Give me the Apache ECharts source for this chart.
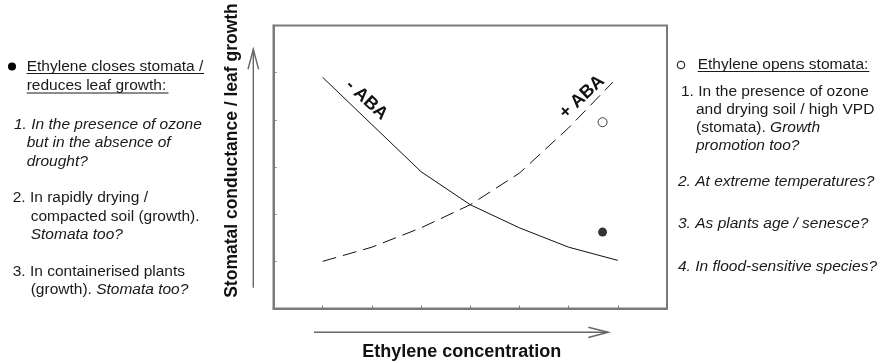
<!DOCTYPE html>
<html>
<head>
<meta charset="utf-8">
<script src="https://cdn.jsdelivr.net/npm/echarts@6/dist/echarts.min.js"></script>
<style>
html,body{margin:0;padding:0;background:#fff;}
#chart{width:888px;height:363px;}
</style>
</head>
<body>
<div id="chart"></div>
<script>
// ---- data ----
var xTicks = [0, 1, 2, 3, 4, 5, 6, 7, 8];
var yTicks = [0, 1, 2, 3, 4, 5, 6];
var minusABA_x = [1, 2, 3, 4, 5, 6, 7];
var minusABA_y = [4.9, 3.9, 2.9, 2.2, 1.71, 1.30, 1.02];
var plusABA_x = [1, 2, 3, 4, 5, 6, 6.9];
var plusABA_y = [1.0, 1.30, 1.71, 2.2, 2.87, 3.83, 4.8];
var openPoint = [6.69, 3.95];
var filledPoint = [6.69, 1.62];

var xAxisTitle = 'Ethylene concentration';
var yAxisTitle = 'Stomatal conductance / leaf growth';
var minusLabel = '- ABA';
var plusLabel = '+ ABA';

var leftHeading = ['Ethylene closes stomata /', 'reduces leaf growth:'];
var leftNotes = [
  ['1. In the presence of ozone', 'i'],
  ['but in the absence of', 'i'],
  ['drought?', 'i'],
  ['2. In rapidly drying /', 'n'],
  ['compacted soil (growth).', 'n'],
  ['Stomata too?', 'i'],
  ['3. In containerised plants', 'n'],
  ['(growth). {i|Stomata too?}', 'n']
];
var rightHeading = ['Ethylene opens stomata:'];
var rightNotes = [
  ['1. In the presence of ozone', 'n'],
  ['and drying soil / high VPD', 'n'],
  ['(stomata). {i|Growth}', 'n'],
  ['promotion too?', 'i'],
  ['2. At extreme temperatures?', 'i'],
  ['3. As plants age / senesce?', 'i'],
  ['4. In flood-sensitive species?', 'i']
];

// ---- layout ----
var FONT = '"Liberation Sans", Arial, Helvetica, sans-serif';
var FS = 15.5;
var TXT = '#1a1a1a';
var GRAY = '#7a7a7a';

function zip(a, b) { return a.map(function (v, i) { return [v, b[i]]; }); }

function textEl(str, x, y, style, extra) {
  var s = {
    text: str, x: 0, y: 0,
    fill: TXT,
    fontFamily: FONT, fontSize: FS,
    fontStyle: style === 'i' ? 'italic' : 'normal',
    fontWeight: 'normal',
    align: 'left', verticalAlign: 'middle',
    rich: { i: { fontStyle: 'italic', fontFamily: FONT, fontSize: FS, fill: TXT } }
  };
  var el = { type: 'text', x: x, y: y, style: s, silent: true };
  if (extra) for (var k in extra) el[k] = extra[k];
  return el;
}

var leftX = [14, 26.7, 26.7, 12.7, 30.7, 30.7, 12.7, 30.7];
var leftY = [124.3, 142.7, 161.7, 197.3, 216.7, 235, 271.7, 290];
var rightX = [681, 696, 696, 696, 678, 678, 678];
var rightY = [91.7, 109.3, 127.3, 145.7, 181.7, 224, 266.7];

var graphics = [];
// headings
graphics.push(textEl(leftHeading[0], 26.7, 66.7, 'n'));
graphics.push(textEl(leftHeading[1], 26.7, 86, 'n'));
graphics.push({ type: 'line', shape: { x1: 26.7, y1: 73.5, x2: 204, y2: 73.5 }, style: { stroke: TXT, lineWidth: 1 }, silent: true });
graphics.push({ type: 'line', shape: { x1: 26.7, y1: 93, x2: 168.5, y2: 93 }, style: { stroke: TXT, lineWidth: 1 }, silent: true });
graphics.push({ type: 'circle', shape: { cx: 12, cy: 66.5, r: 4 }, style: { fill: '#000' }, silent: true });

graphics.push(textEl(rightHeading[0], 697.7, 65, 'n'));
graphics.push({ type: 'line', shape: { x1: 697.7, y1: 71.5, x2: 869.3, y2: 71.5 }, style: { stroke: TXT, lineWidth: 1 }, silent: true });
graphics.push({ type: 'circle', shape: { cx: 681, cy: 65, r: 3.8 }, style: { fill: '#fff', stroke: '#000', lineWidth: 1 }, silent: true });

leftNotes.forEach(function (n, i) { graphics.push(textEl(n[0], leftX[i], leftY[i], n[1])); });
rightNotes.forEach(function (n, i) { graphics.push(textEl(n[0], rightX[i], rightY[i], n[1])); });

// axis titles
graphics.push({ type: 'text', x: 232, y: 150.5, rotation: Math.PI / 2, silent: true,
  style: { text: yAxisTitle, x: 0, y: 0, fill: '#111', fontFamily: FONT, fontSize: 17.5, fontWeight: 'bold', align: 'center', verticalAlign: 'middle' } });
graphics.push({ type: 'text', x: 461.7, y: 352.5, silent: true,
  style: { text: xAxisTitle, x: 0, y: 0, fill: '#111', fontFamily: FONT, fontSize: 18, fontWeight: 'bold', align: 'center', verticalAlign: 'middle' } });

// ABA labels
graphics.push({ type: 'text', x: 366.5, y: 100, rotation: -0.75, silent: true,
  style: { text: minusLabel, x: 0, y: 0, fill: '#111', fontFamily: FONT, fontSize: 18, fontWeight: 'bold', align: 'center', verticalAlign: 'middle' } });
graphics.push({ type: 'text', x: 582, y: 97, rotation: 0.75, silent: true,
  style: { text: plusLabel, x: 0, y: 0, fill: '#111', fontFamily: FONT, fontSize: 18, fontWeight: 'bold', align: 'center', verticalAlign: 'middle' } });

// arrows
var ARW = { stroke: '#666', lineWidth: 1.4 };
graphics.push({ type: 'line', shape: { x1: 253.3, y1: 287.7, x2: 253.3, y2: 49.3 }, style: ARW, silent: true });
graphics.push({ type: 'polyline', shape: { points: [[248, 69.3], [253.3, 49.3], [258.6, 69.3]] }, style: ARW, silent: true });
graphics.push({ type: 'line', shape: { x1: 314, y1: 332.3, x2: 608.3, y2: 332.3 }, style: ARW, silent: true });
graphics.push({ type: 'polyline', shape: { points: [[588.3, 327.2], [608.3, 332.3], [588.3, 337.5]] }, style: ARW, silent: true });

var chart = echarts.init(document.getElementById('chart'), null, { renderer: 'canvas' });
var axisCommon = {
  type: 'value',
  axisLine: { show: true, lineStyle: { color: GRAY, width: 2 } },
  axisTick: { show: true, inside: true, length: 3, lineStyle: { color: GRAY, width: 1 } },
  axisLabel: { show: false },
  splitLine: { show: false }
};
chart.setOption({
  animation: false,
  backgroundColor: '#fff',
  grid: { left: 273.5, top: 25.5, width: 393.5, height: 283, show: true, borderColor: GRAY, borderWidth: 2, backgroundColor: 'transparent' },
  xAxis: Object.assign({}, axisCommon, { min: xTicks[0], max: xTicks[xTicks.length - 1], interval: 1 }),
  yAxis: Object.assign({}, axisCommon, { min: yTicks[0], max: yTicks[yTicks.length - 1], interval: 1 }),
  series: [
    { type: 'line', data: zip(minusABA_x, minusABA_y), showSymbol: false, symbol: 'none',
      lineStyle: { color: '#111', width: 1 }, silent: true },
    { type: 'line', data: zip(plusABA_x, plusABA_y), showSymbol: false, symbol: 'none',
      lineStyle: { color: '#111', width: 1, type: [14, 7] }, silent: true },
    { type: 'scatter', data: [openPoint], symbol: 'circle', symbolSize: 9,
      itemStyle: { color: '#fff', borderColor: '#111', borderWidth: 1 }, silent: true },
    { type: 'scatter', data: [filledPoint], symbol: 'circle', symbolSize: 9,
      itemStyle: { color: '#000' }, silent: true }
  ],
  graphic: graphics
});
</script>
</body>
</html>
